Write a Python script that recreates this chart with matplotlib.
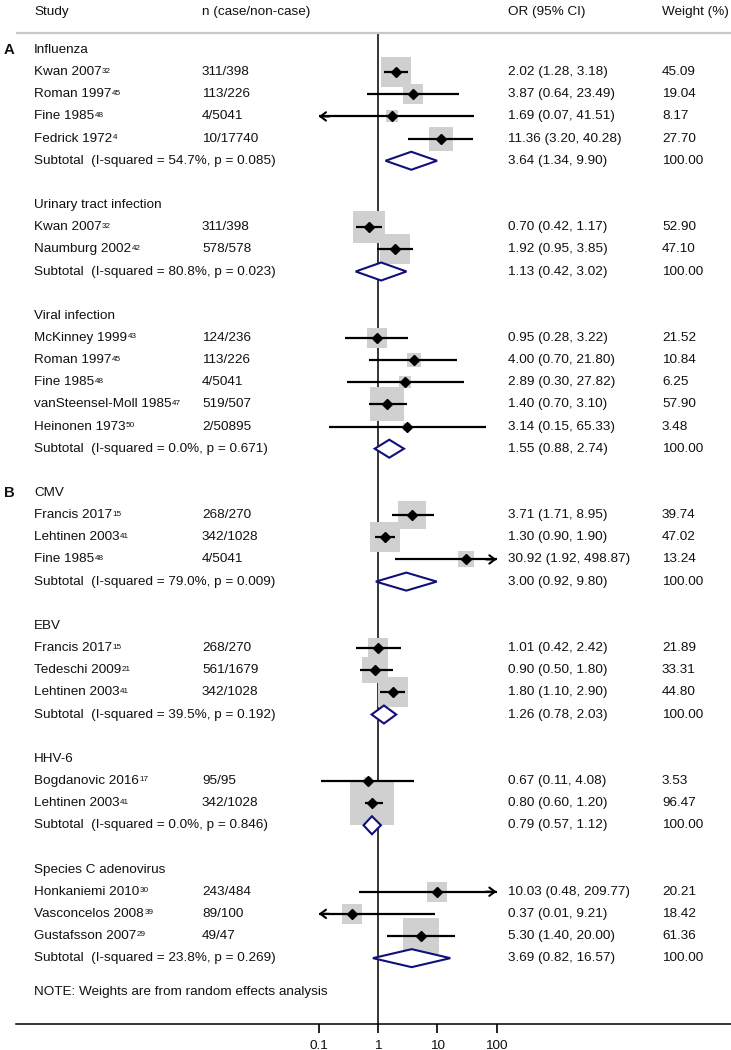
import numpy as np
import matplotlib
matplotlib.use('Agg')
import matplotlib.pyplot as plt
from matplotlib.patches import Polygon

plt.rcParams['font.family'] = ['Liberation Sans', 'DejaVu Sans']

# ---- data ----
groups = ['Influenza', 'Urinary tract infection', 'Viral infection',
          'CMV', 'EBV', 'HHV-6', 'Species C adenovirus']
panel = {'Influenza': 'A', 'CMV': 'B'}

study_names = [
    ['Kwan 2007', 'Roman 1997', 'Fine 1985', 'Fedrick 1972'],
    ['Kwan 2007', 'Naumburg 2002'],
    ['McKinney 1999', 'Roman 1997', 'Fine 1985', 'vanSteensel-Moll 1985', 'Heinonen 1973'],
    ['Francis 2017', 'Lehtinen 2003', 'Fine 1985'],
    ['Francis 2017', 'Tedeschi 2009', 'Lehtinen 2003'],
    ['Bogdanovic 2016', 'Lehtinen 2003'],
    ['Honkaniemi 2010', 'Vasconcelos 2008', 'Gustafsson 2007'],
]
study_refs = [
    ['32', '45', '48', '4'],
    ['32', '42'],
    ['43', '45', '48', '47', '50'],
    ['15', '41', '48'],
    ['15', '21', '41'],
    ['17', '41'],
    ['30', '39', '29'],
]
study_n = [
    ['311/398', '113/226', '4/5041', '10/17740'],
    ['311/398', '578/578'],
    ['124/236', '113/226', '4/5041', '519/507', '2/50895'],
    ['268/270', '342/1028', '4/5041'],
    ['268/270', '561/1679', '342/1028'],
    ['95/95', '342/1028'],
    ['243/484', '89/100', '49/47'],
]
study_or = [
    [2.02, 3.87, 1.69, 11.36],
    [0.70, 1.92],
    [0.95, 4.00, 2.89, 1.40, 3.14],
    [3.71, 1.30, 30.92],
    [1.01, 0.90, 1.80],
    [0.67, 0.80],
    [10.03, 0.37, 5.30],
]
study_lo = [
    [1.28, 0.64, 0.07, 3.20],
    [0.42, 0.95],
    [0.28, 0.70, 0.30, 0.70, 0.15],
    [1.71, 0.90, 1.92],
    [0.42, 0.50, 1.10],
    [0.11, 0.60],
    [0.48, 0.01, 1.40],
]
study_hi = [
    [3.18, 23.49, 41.51, 40.28],
    [1.17, 3.85],
    [3.22, 21.80, 27.82, 3.10, 65.33],
    [8.95, 1.90, 498.87],
    [2.42, 1.80, 2.90],
    [4.08, 1.20],
    [209.77, 9.21, 20.00],
]
study_w = [
    [45.09, 19.04, 8.17, 27.70],
    [52.90, 47.10],
    [21.52, 10.84, 6.25, 57.90, 3.48],
    [39.74, 47.02, 13.24],
    [21.89, 33.31, 44.80],
    [3.53, 96.47],
    [20.21, 18.42, 61.36],
]
sub_i2 = ['54.7', '80.8', '0.0', '79.0', '39.5', '0.0', '23.8']
sub_p = ['0.085', '0.023', '0.671', '0.009', '0.192', '0.846', '0.269']
sub_or = [3.64, 1.13, 1.55, 3.00, 1.26, 0.79, 3.69]
sub_lo = [1.34, 0.42, 0.88, 0.92, 0.78, 0.57, 0.82]
sub_hi = [9.90, 3.02, 2.74, 9.80, 2.03, 1.12, 16.57]

xticks = [0.1, 1, 10, 100]
xtick_labels = ['0.1', '1', '10', '100']
x_min, x_max = 0.1, 100

# ---- layout (pixel geometry of the figure) ----
W, H = 731, 1050
x0_px, dec_px = 378, 59.3       # x pixel of OR=1, pixels per decade
row0_px, row_px = 50, 22.15     # y pixel of first row, pixels per row
FS = 9.7
TXT = '#111111'

fig = plt.figure(figsize=(W / 100, H / 100), dpi=100)
ax = fig.add_axes([0, 0, 1, 1])
ax.set_xscale('log')
ax.set_xlim(10 ** (-x0_px / dec_px), 10 ** ((W - x0_px) / dec_px))
ax.set_ylim((H - row0_px) / row_px, -row0_px / row_px)
for s in ['left', 'right', 'top']:
    ax.spines[s].set_visible(False)
ax.set_yticks([])
renderer = fig.canvas.get_renderer()

tr = ax.get_yaxis_transform()   # x in axes fraction, y in rows
col_study, col_n, col_or, col_w = 34 / W, 202 / W, 508 / W, 662 / W

def px2x(px):
    return 10 ** ((px - x0_px) / dec_px)

def txt(x, y, s, **kw):
    return ax.text(x, y, s, transform=tr, fontsize=FS, va='center', ha='left',
                   color=TXT, **kw)

top_line = -0.77
axis_row = (1024 - row0_px) / row_px

# header
hy = (12 - row0_px) / row_px
for cx, lab in [(col_study, 'Study'), (col_n, 'n (case/non-case)'),
                (col_or, 'OR (95% CI)'), (col_w, 'Weight (%)')]:
    txt(cx, hy, lab)
ax.plot([px2x(16), ax.get_xlim()[1]], [top_line, top_line], color='#c8c8c8', lw=1.6,
        solid_capstyle='butt', clip_on=False)

# reference line
ax.plot([1, 1], [top_line, axis_row], color='black', lw=1.1, zorder=1)

arrow = dict(arrowstyle='->,head_length=0.4,head_width=0.3',
             lw=1.5, color='black', shrinkA=0, shrinkB=0)

row = 0
for gi, g in enumerate(groups):
    if g in panel:
        txt(4 / W, row, panel[g], fontweight='bold').set_fontsize(FS + 1)
    txt(col_study, row, g)
    row += 1
    for k in range(len(study_names[gi])):
        o, lo, hi, w = study_or[gi][k], study_lo[gi][k], study_hi[gi][k], study_w[gi][k]
        t = txt(col_study, row, study_names[gi][k])
        bb = t.get_window_extent(renderer)
        fig.text((bb.x1 + 0.5) / W, (bb.y1 - 1.5) / H, study_refs[gi][k],
                 fontsize=FS * 0.6, va='top', ha='left', color=TXT)
        txt(col_n, row, study_n[gi][k])
        txt(col_or, row, f"{o:.2f} ({lo:.2f}, {hi:.2f})")
        txt(col_w, row, f"{w:.2f}")
        # weight box
        side_pt = 4.47 * np.sqrt(w) * 0.72
        ax.plot([o], [row], marker='s', ms=side_pt, mfc='#d0d0d0', mec='#d0d0d0',
                mew=0, ls='none', zorder=2)
        # CI line, with arrows where truncated
        a, b = max(lo, x_min), min(hi, x_max)
        ax.plot([a, b], [row, row], color='black', lw=1.6, zorder=3,
                solid_capstyle='butt')
        if lo < x_min:
            ax.annotate('', xy=(x_min, row), xytext=(x_min * 1.5, row),
                        arrowprops=arrow, zorder=3)
        if hi > x_max:
            ax.annotate('', xy=(x_max, row), xytext=(x_max / 1.5, row),
                        arrowprops=arrow, zorder=3)
        ax.plot([o], [row], marker='D', ms=5.2, color='black', ls='none', zorder=4)
        row += 1
    # subtotal
    txt(col_study, row, f"Subtotal  (I-squared = {sub_i2[gi]}%, p = {sub_p[gi]})")
    txt(col_or, row, f"{sub_or[gi]:.2f} ({sub_lo[gi]:.2f}, {sub_hi[gi]:.2f})")
    txt(col_w, row, "100.00")
    h = 9 / row_px
    ax.add_patch(Polygon([(sub_lo[gi], row), (sub_or[gi], row - h), (sub_hi[gi], row),
                          (sub_or[gi], row + h)], closed=True, fc='white',
                         ec='#10107a', lw=1.5, zorder=5))
    row += 2

txt(col_study, (992 - row0_px) / row_px, 'NOTE: Weights are from random effects analysis')

# bottom axis
ax.spines['bottom'].set_position(('data', axis_row))
ax.spines['bottom'].set_bounds(px2x(16), ax.get_xlim()[1])
ax.spines['bottom'].set_linewidth(1.1)
ax.set_xticks(xticks, labels=xtick_labels)
ax.xaxis.set_minor_locator(matplotlib.ticker.NullLocator())
ax.tick_params(axis='x', direction='out', length=6.5, width=1.2, pad=5,
               labelsize=FS, labelcolor=TXT)

fig.savefig('out.png', dpi=100)
